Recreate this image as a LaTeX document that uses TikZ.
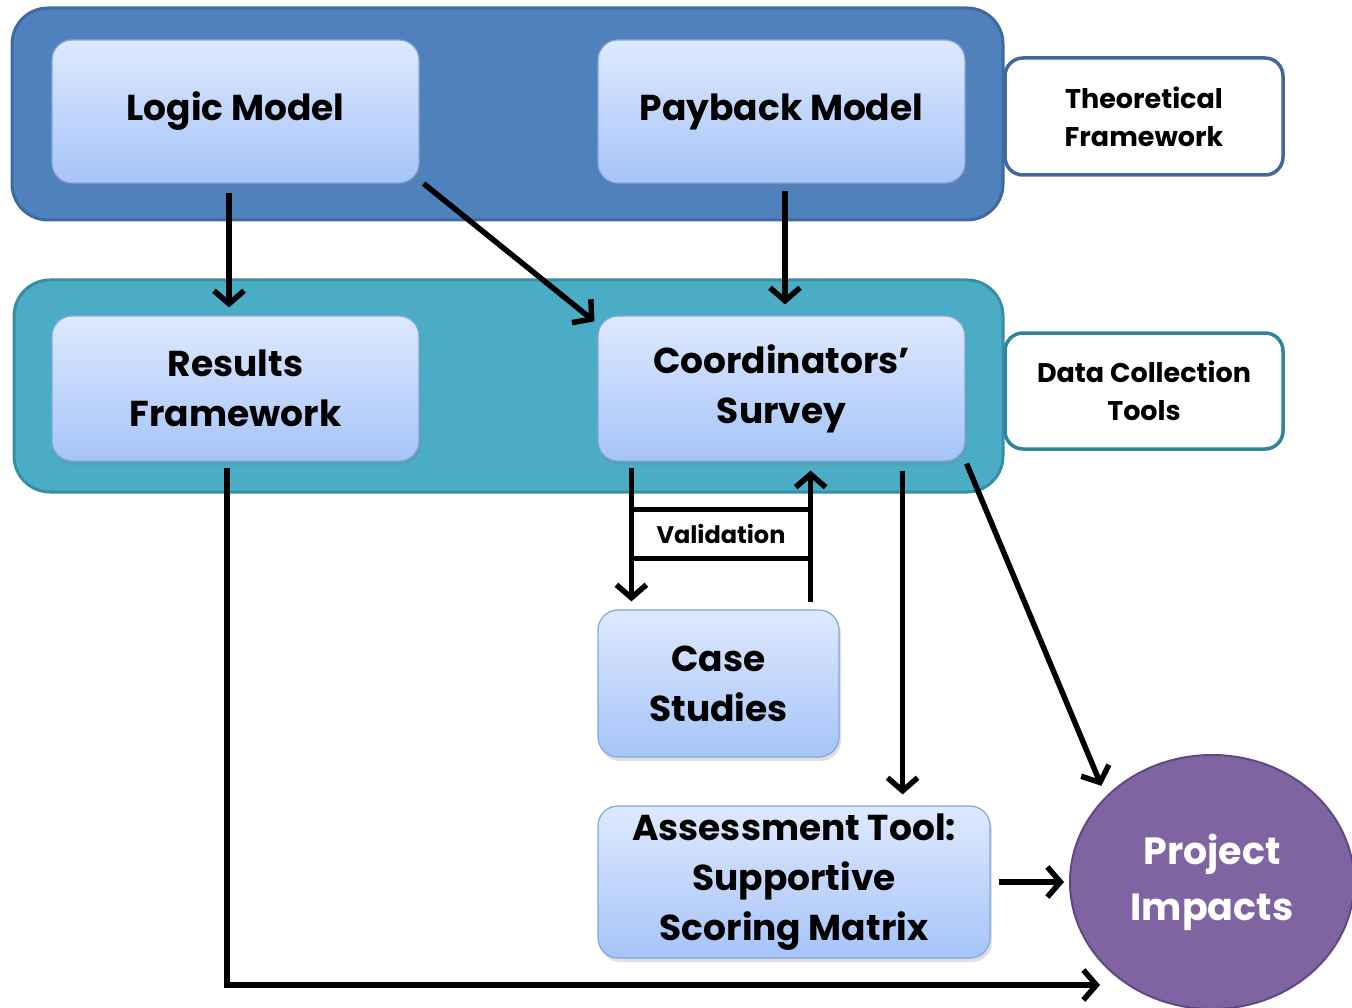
\documentclass[tikz,border=0pt]{standalone}
\usepackage{fontspec}
\setmainfont{Poppins}
\usetikzlibrary{arrows.meta,shapes.geometric,shadows}
\definecolor{topfill}{HTML}{4F81BD}
\definecolor{topline}{HTML}{3D6A9F}
\definecolor{tealfill}{HTML}{4BACC6}
\definecolor{tealline}{HTML}{378EA5}
\definecolor{boxtop}{HTML}{DEE9FE}
\definecolor{boxbot}{HTML}{A6C4F9}
\definecolor{boxline}{HTML}{7FA6E0}
\definecolor{sideblue}{HTML}{41699B}
\definecolor{sideteal}{HTML}{31849B}
\definecolor{pifill}{HTML}{8064A2}
\definecolor{piline}{HTML}{5F4884}
\begin{document}
\begin{tikzpicture}[x=1pt,y=-1pt,
  container/.style={rounded corners=36pt, line width=3pt},
  bluebox/.style={rounded corners=20pt, top color=boxtop, bottom color=boxbot, draw=boxline, line width=1.2pt,
    drop shadow={shadow xshift=2pt, shadow yshift=-4pt, opacity=0.25},
    align=center, font=\bfseries\fontsize{36}{50}\selectfont, inner sep=0pt},
  sidebox/.style={rounded corners=18pt, fill=white, line width=3.5pt, align=center,
    font=\bfseries\fontsize{27}{38}\selectfont, minimum width=278pt, inner sep=0pt},
  arr/.style={line width=5.5pt, -{Straight Barb[length=13pt,width=30pt]}},
  plain/.style={line width=5pt}
]
\useasboundingbox (0,0) rectangle (1352,1008);
% containers
\node[container, fill=topfill, draw=topline, minimum width=991pt, minimum height=212pt] (topc) at (507.5,114) {};
\node[container, fill=tealfill, draw=tealline, minimum width=989pt, minimum height=212pt] (tealc) at (508.5,386) {};
% side labels
\node[sidebox, draw=sideblue, minimum height=117pt] (tf) at (1144,116.5) {Theoretical\\Framework};
\node[sidebox, draw=sideteal, minimum height=116pt] (dct) at (1144,391) {Data Collection\\Tools};
% boxes
\node[bluebox, minimum width=367pt, minimum height=143pt] (lm) at (235.5,111.5) {Logic Model};
\node[bluebox, minimum width=367pt, minimum height=143pt] (pm) at (781.5,111.5) {Payback Model};
\node[bluebox, minimum width=367pt, minimum height=145pt] (rf) at (235.5,388.5) {Results\\Framework};
\node[bluebox, minimum width=367pt, minimum height=145pt] (cs) at (781.5,388.5) {Coordinators’\\Survey};
\node[bluebox, minimum width=241pt, minimum height=147pt] (case) at (718.5,683.5) {Case\\Studies};
\node[bluebox, minimum width=392pt, minimum height=152pt] (at) at (794,882) {Assessment Tool:\\Supportive\\Scoring Matrix};
\node[ellipse, fill=pifill, draw=piline, line width=2pt, minimum width=284pt, minimum height=254pt,
  text=white, align=center, font=\bfseries\fontsize{38}{56}\selectfont, inner sep=0pt] (pi) at (1212,882) {Project\\Impacts};
\coordinate (pin) at (1100,985);
% validation label
\node[minimum width=178pt, minimum height=48pt, inner sep=0pt, font=\bfseries\fontsize{24}{28}\selectfont] (val) at (721,534) {Validation};
\draw[plain] (val.north west) -- (val.north east) (val.south west) -- (val.south east);
% arrows
\draw[arr] ([xshift=-6.5pt,yshift=-9pt]lm.south) -- ([xshift=-6.5pt,yshift=8pt]rf.north);
\draw[arr] ([xshift=4pt]lm.south east) -- ([xshift=-3pt,yshift=-6pt]cs.north west);
\draw[arr] ([xshift=3.5pt,yshift=-7pt]pm.south) -- ([xshift=3.5pt,yshift=11pt]cs.north);
\draw[arr] ([xshift=-8.5pt,yshift=-6pt]rf.south) |- (pin);
\draw[arr] ([xshift=34pt,yshift=-6pt]cs.south west) -- ([xshift=34pt,yshift=8pt]case.north west);
\draw[arr] ([xshift=-29pt,yshift=7pt]case.north east) coordinate (u) -- ([yshift=-9pt]u |- cs.south);
\draw[arr] ([xshift=-63pt,yshift=-9pt]cs.south east) -- ([xshift=-88pt,yshift=11pt]at.north east);
\draw[arr] ([xshift=1pt,yshift=-2pt]cs.south east) -- ([shift={(-8pt,7pt)}]pi.139);
\draw[arr] ([xshift=8pt]at.east) -- ([xshift=-5pt]pi.west);
\end{tikzpicture}
\end{document}
